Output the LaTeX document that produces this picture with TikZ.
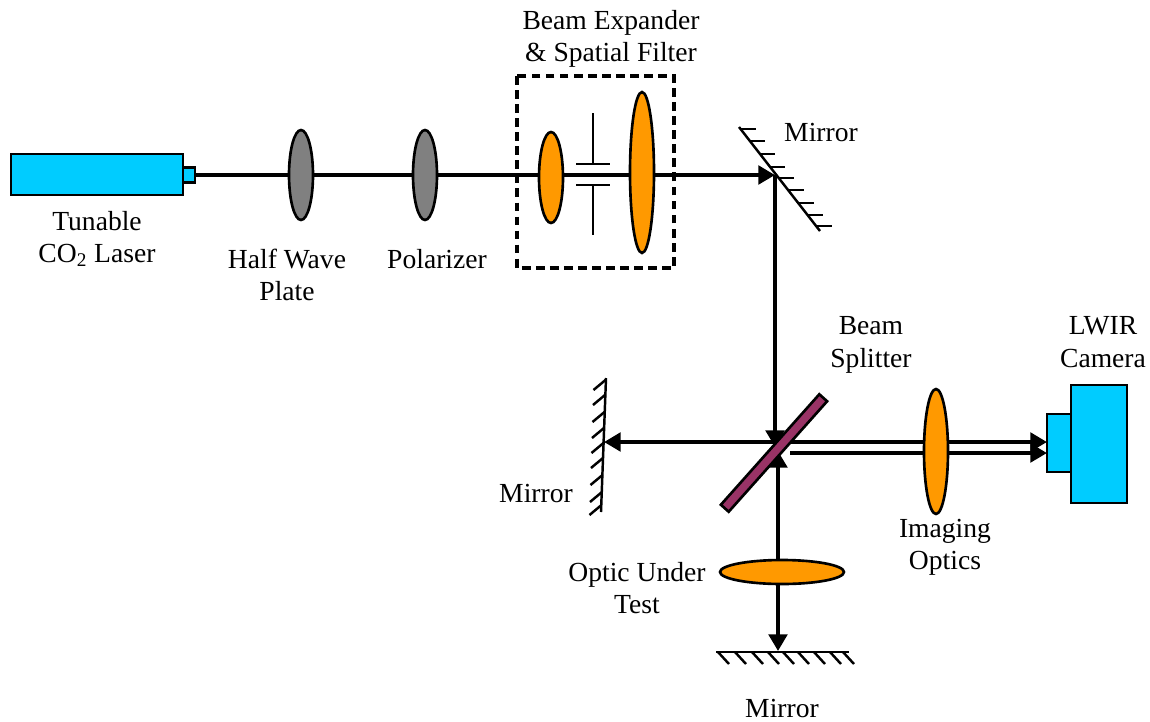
\documentclass[tikz,border=0pt]{standalone}
\usepackage{fontspec}
\setmainfont{Liberation Serif}
\usetikzlibrary{arrows.meta, shapes.geometric}
\definecolor{laserblue}{RGB}{0,204,255}
\definecolor{lensorange}{RGB}{255,153,0}
\definecolor{lensgrey}{RGB}{128,128,128}
\definecolor{splitterpurple}{RGB}{153,51,102}
\tikzset{
  beam/.style={line width=2.3pt},
  beamtip/.style={beam, -{Triangle[length=9.5pt,width=10.5pt]}},
  lens/.style={ellipse, draw=black, line width=1.5pt, inner sep=0pt, fill=lensorange},
  box/.style={rectangle, draw=black, line width=1.5pt, inner sep=0pt, fill=laserblue},
  mirrorline/.style={line width=1.4pt},
  lbl/.style={align=center, inner sep=0pt, font=\fontsize{15.7}{18.4}\selectfont}
}
\begin{document}
\begin{tikzpicture}[x=0.02cm, y=-0.02cm]
\useasboundingbox (0,0) rectangle (1150,721);

\node[box, minimum width=3.44cm, minimum height=0.82cm] (laser) at (97,174.5) {};
\node[box, minimum width=0.24cm, minimum height=0.30cm] (nozzle) at (189,175) {};

\coordinate (hitTop) at (775,175);
\coordinate (hitSplit) at (775,447);
\coordinate (crossLeft) at (775,442);
\coordinate (hitLeft) at (604,442);
\coordinate (splitRight) at (790,442);
\coordinate (splitRightLow) at (790,453);
\coordinate (camTop) at (1047,442);
\coordinate (camLow) at (1047,453);
\coordinate (testBeam) at (778,572);
\coordinate (hitSplitLow) at (778,451);
\coordinate (hitBottom) at (778,651);

\draw[beamtip] (nozzle.east) -- (hitTop);
\draw[beamtip] (hitTop) -- (hitSplit);
\draw[beamtip] (crossLeft) -- (hitLeft);
\draw[beamtip] (splitRight) -- (camTop);
\draw[beamtip] (splitRightLow) -- (camLow);
\draw[beamtip] (testBeam) -- (hitSplitLow);
\draw[beamtip] (testBeam) -- (hitBottom);

\node[lens, fill=lensgrey, minimum width=0.48cm, minimum height=1.8cm] (halfwave) at (301,175) {};
\node[lens, fill=lensgrey, minimum width=0.48cm, minimum height=1.8cm] (polarizer) at (425,175) {};
\node[lens, minimum width=0.48cm, minimum height=1.82cm] (expandA) at (551,177.5) {};
\node[lens, minimum width=0.48cm, minimum height=3.22cm] (expandB) at (642,172.5) {};
\node[lens, minimum width=0.48cm, minimum height=2.5cm] (imaging) at (936,451.5) {};
\node[lens, minimum width=2.48cm, minimum height=0.48cm] (test) at (782,572) {};

% spatial filter
\draw[line width=1.8pt, dash pattern=on 5pt off 3pt] (517,76) rectangle (674,268);
\draw[line width=1.2pt] (576,164) -- (610,164);
\draw[line width=1.2pt] (576,185) -- (610,185);
\draw[line width=1.2pt] (593,113) -- (593,164);
\draw[line width=1.2pt] (593,185) -- (593,235);

% mirrors
\draw[mirrorline] (739,127) -- (820,231);
\foreach \hx/\hy in {741/129,750/141,760/154,770/167,779/178,788.5/190,798.6/203,808/215,816.5/226}
  \draw[mirrorline] (\hx,\hy) -- ++(15,0);
\draw[mirrorline] (606,378) -- (601,512);
\foreach \hx/\hy in {605.5/380,605/395,604.5/412,604/428,603.5/443,603/458,602.5/475,602/492,601.5/505}
  \draw[mirrorline] (\hx,\hy) -- ++(-12,10);
\draw[mirrorline] (716,652) -- (849,652);
\foreach \hx in {718,735,752,768,783,798,814,830,843}
  \draw[mirrorline] (\hx,652) -- ++(11,12);

\node[box, fill=splitterpurple, minimum width=2.96cm, minimum height=0.21cm, rotate=48.3] (splitter) at (774,453) {};

\node[box, minimum width=1.12cm, minimum height=2.36cm] (camera) at (1099,444) {};
\node[box, minimum width=0.48cm, minimum height=1.16cm] (cameraLens) at (1059,443) {};

\node[lbl] (expanderLabel) at (611,39) {Beam Expander\\\& Spatial Filter};
\node[lbl] (mirrorTopLabel) at (821,132) {Mirror};
\node[lbl] (laserLabel) at (97,239) {Tunable\\CO\textsubscript{2} Laser};
\node[lbl] (halfwaveLabel) at (287,275) {Half Wave\\Plate};
\node[lbl] (polarizerLabel) at (437,259) {Polarizer};
\node[lbl] (splitterLabel) at (871,345) {Beam\\Splitter};
\node[lbl] (cameraLabel) at (1103,342) {LWIR\\Camera};
\node[lbl] (mirrorLeftLabel) at (536,493) {Mirror};
\node[lbl] (imagingLabel) at (945,547) {Imaging\\Optics};
\node[lbl] (testLabel) at (637,588) {Optic Under\\Test};
\node[lbl] (mirrorBottomLabel) at (782,708) {Mirror};
\end{tikzpicture}
\end{document}
